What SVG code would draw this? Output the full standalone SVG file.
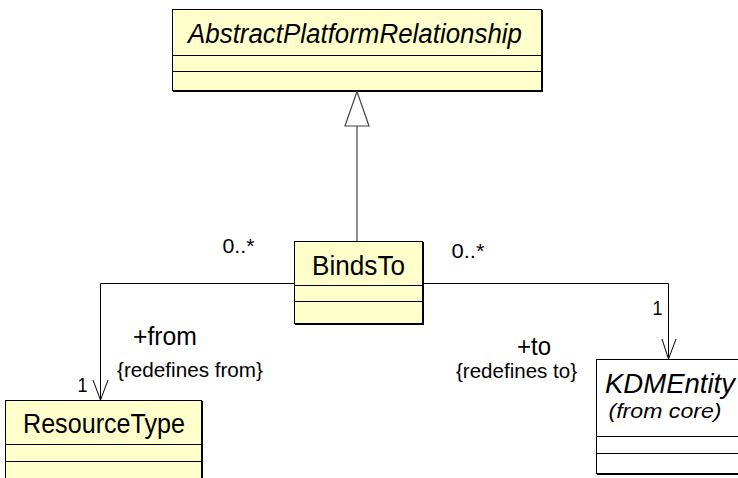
<svg xmlns="http://www.w3.org/2000/svg" width="738" height="478" viewBox="0 0 738 478">
<defs>
<style>
text{font-family:"Liberation Sans",Arial,sans-serif;fill:#000}
.cls{fill:#FFFFCC;stroke:#000;stroke-width:1}
.white{fill:#FFFFFF;stroke:#000;stroke-width:1}
.shadow{fill:none;stroke:#000;stroke-width:2}
.div{stroke:#000;stroke-width:1}
.name{font-size:27px;text-anchor:middle}
.it{font-style:italic}
.lbl{font-size:21px}
.role{font-size:26px}
.edge{fill:none;stroke:#000;stroke-width:1}
.gen{fill:none;stroke:#444;stroke-width:1.2}
</style>
</defs>
<g id="AbstractPlatformRelationship">
<rect class="cls" x="172.5" y="9.5" width="369" height="81"/>
<polyline class="shadow" points="542,10 542,91 173,91"/>
<line class="div" x1="172.5" y1="55.5" x2="541.5" y2="55.5"/>
<line class="div" x1="172.5" y1="71.5" x2="541.5" y2="71.5"/>
<text class="name it" x="355" y="43" textLength="334" lengthAdjust="spacingAndGlyphs">AbstractPlatformRelationship</text>
</g>
<g id="BindsTo">
<rect class="cls" x="294.5" y="241.5" width="128" height="82"/>
<polyline class="shadow" points="423,242 423,324 295,324"/>
<line class="div" x1="294.5" y1="285.5" x2="422.5" y2="285.5"/>
<line class="div" x1="294.5" y1="301.5" x2="422.5" y2="301.5"/>
<text class="name" x="358.5" y="275" textLength="93" lengthAdjust="spacingAndGlyphs">BindsTo</text>
</g>
<g id="ResourceType">
<rect class="cls" x="5.5" y="400.5" width="196" height="90"/>
<line class="shadow" x1="202" y1="401" x2="202" y2="478"/>
<line class="div" x1="5.5" y1="444.5" x2="201.5" y2="444.5"/>
<line class="div" x1="5.5" y1="461.5" x2="201.5" y2="461.5"/>
<text class="name" x="104" y="433" textLength="162" lengthAdjust="spacingAndGlyphs">ResourceType</text>
</g>
<g id="KDMEntity">
<rect class="white" x="596.5" y="359.5" width="150" height="114"/>
<line class="shadow" x1="597" y1="474" x2="738" y2="474"/>
<line class="div" x1="596.5" y1="436.5" x2="738" y2="436.5"/>
<line class="div" x1="596.5" y1="453.5" x2="738" y2="453.5"/>
<text class="name it" x="670" y="393" textLength="130" lengthAdjust="spacingAndGlyphs">KDMEntity</text>
<text class="it" x="665" y="418" font-size="20" text-anchor="middle" textLength="113" lengthAdjust="spacingAndGlyphs">(from core)</text>
</g>
<g id="connectors">
<line class="gen" x1="357" y1="126" x2="357" y2="241"/>
<polygon class="gen" points="357,91.5 345,126 369,126"/>
<polyline class="edge" points="294,283.5 100.5,283.5 100.5,400"/>
<polyline class="edge" points="93,380 100.5,400 108,380"/>
<polyline class="edge" points="423,283.5 668.5,283.5 668.5,359"/>
<polyline class="edge" points="662,339 668.5,359 676,339"/>
<text class="lbl" x="222.5" y="253" textLength="32" lengthAdjust="spacingAndGlyphs">0..*</text>
<text class="lbl" x="451.5" y="258" textLength="33" lengthAdjust="spacingAndGlyphs">0..*</text>
<text class="role" x="133" y="345" textLength="64" lengthAdjust="spacingAndGlyphs">+from</text>
<text class="lbl" x="117" y="376.5" textLength="146" lengthAdjust="spacingAndGlyphs">{redefines from}</text>
<text class="lbl" x="77.5" y="391.5" textLength="10" lengthAdjust="spacingAndGlyphs">1</text>
<text class="role" x="517" y="355" textLength="34" lengthAdjust="spacingAndGlyphs">+to</text>
<text class="lbl" x="456" y="378" textLength="121" lengthAdjust="spacingAndGlyphs">{redefines to}</text>
<text class="lbl" x="652.5" y="315" textLength="10" lengthAdjust="spacingAndGlyphs">1</text>
</g>
</svg>
